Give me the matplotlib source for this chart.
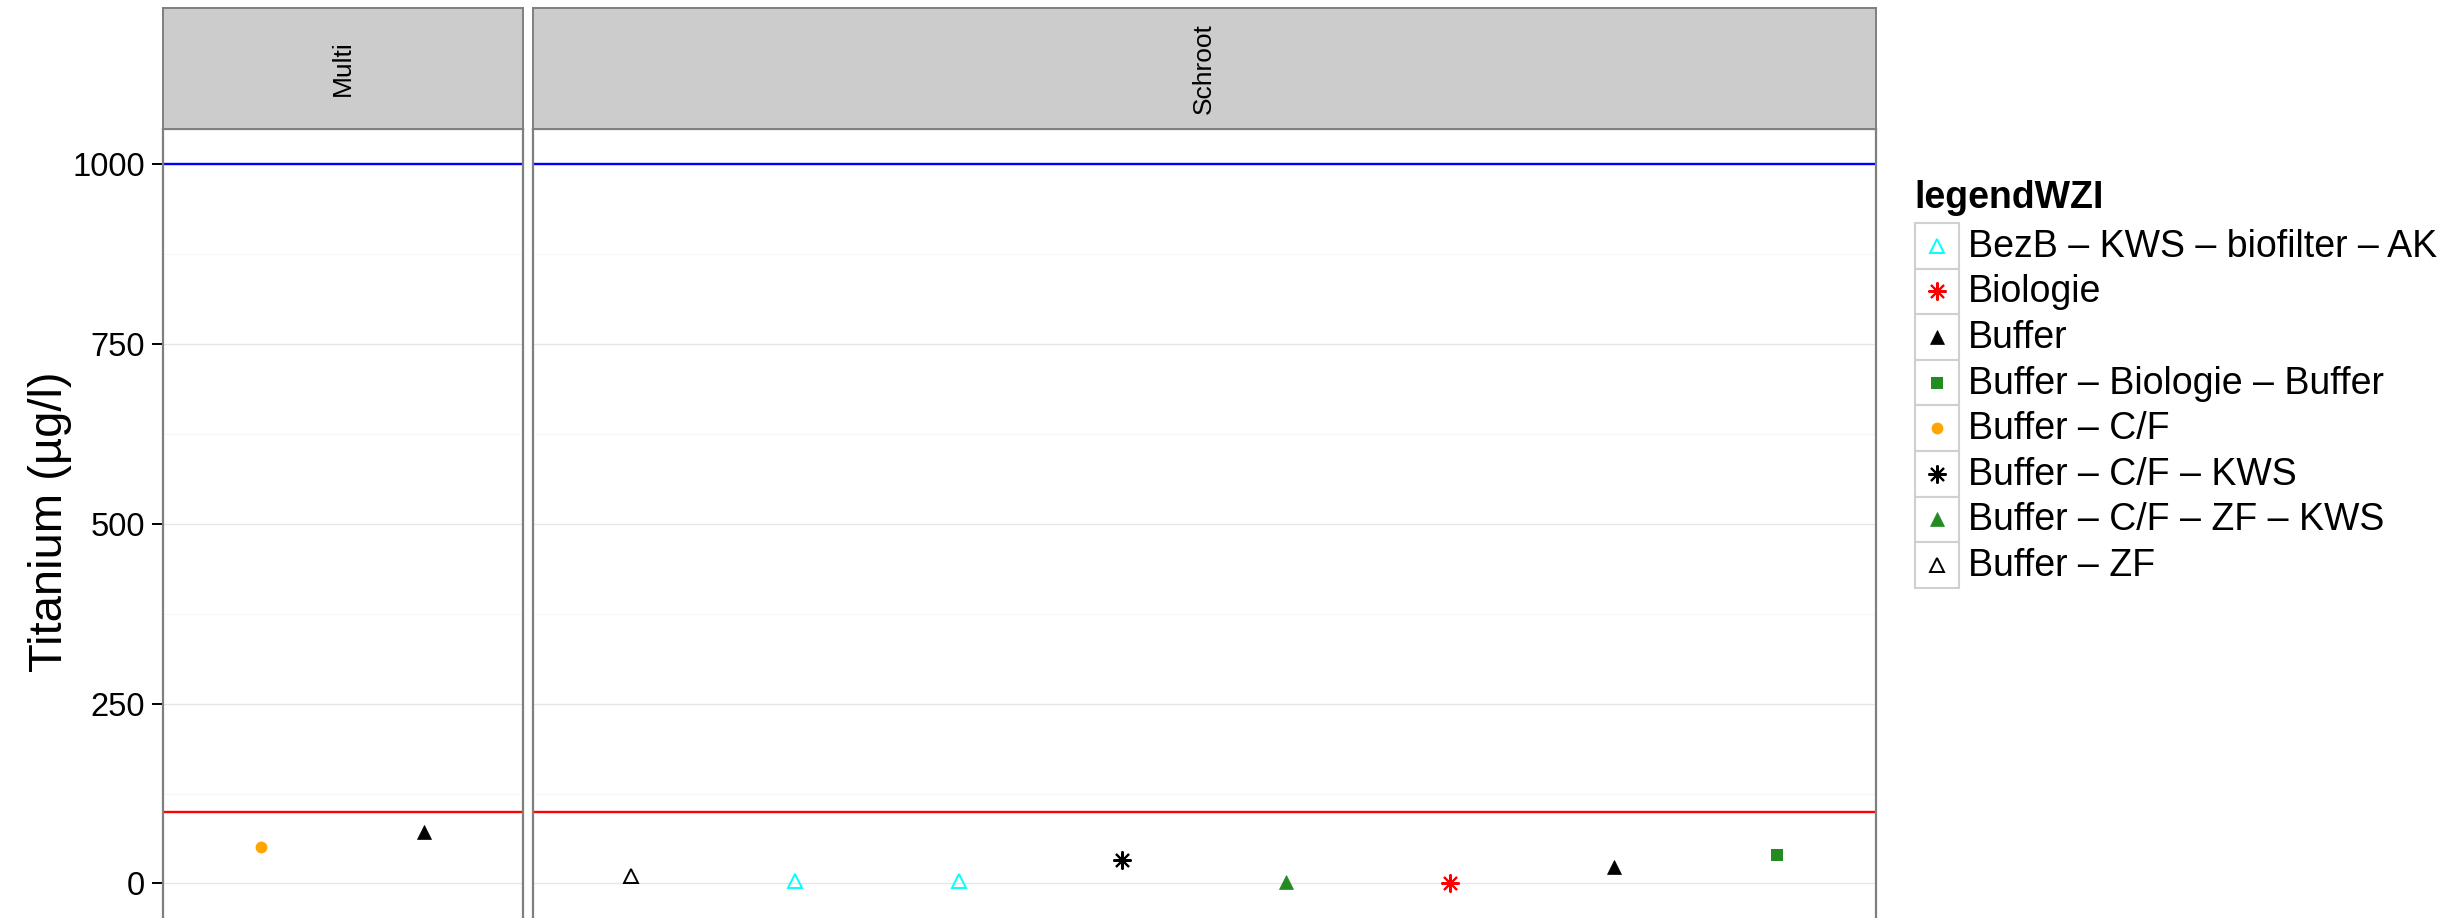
import matplotlib
matplotlib.use("Agg")
import matplotlib.pyplot as plt
from matplotlib.patches import Rectangle

plt.rcParams['font.family'] = ['Liberation Sans', 'DejaVu Sans']

# groups (legend order) and their marker styles
groups = ['BezB – KWS – biofilter – AK', 'Biologie', 'Buffer',
          'Buffer – Biologie – Buffer', 'Buffer – C/F', 'Buffer – C/F – KWS',
          'Buffer – C/F – ZF – KWS', 'Buffer – ZF']
group_colors = ['#00FFFF', '#FF0000', '#000000', '#228B22',
                '#FFA500', '#000000', '#228B22', '#000000']

# panel data (sample order along x)
multi_groups = ['Buffer – C/F', 'Buffer']
multi_values = [51, 71]
schroot_groups = ['Buffer – ZF', 'BezB – KWS – biofilter – AK',
                  'BezB – KWS – biofilter – AK', 'Buffer – C/F – KWS',
                  'Buffer – C/F – ZF – KWS', 'Biologie', 'Buffer',
                  'Buffer – Biologie – Buffer']
schroot_values = [10, 3.5, 3.5, 32, 2.5, 0.4, 23, 39]

limit_high = 1000
limit_low = 100
yticks = [0, 250, 500, 750, 1000]
yminor = [125, 375, 625, 875]


def marker_kw(group):
    c = group_colors[groups.index(group)]
    kw = dict(color=c, linestyle='none')
    if group in ('BezB – KWS – biofilter – AK', 'Buffer – ZF'):
        kw.update(marker='^', ms=10, mfc='none', mec=c, mew=1.4)
    elif group in ('Biologie', 'Buffer – C/F – KWS'):
        kw.update(marker=(8, 2, 0), ms=13, mec=c, mew=1.5)
    elif group in ('Buffer', 'Buffer – C/F – ZF – KWS'):
        kw.update(marker='^', ms=10, mfc=c, mec=c, mew=0.5)
    elif group == 'Buffer – Biologie – Buffer':
        kw.update(marker='s', ms=9, mfc=c, mec=c, mew=0)
    else:
        kw.update(marker='o', ms=8.5, mfc=c, mec=c, mew=0)
    return kw


W, H = 2445, 918
fig = plt.figure(figsize=(W / 100, H / 100), dpi=100)

panel_bottom = 0.0
panel_h = (H - 129) / H
strip_h = (129 - 8) / H
panels = [
    ('Multi', 163 / W, (522.5 - 163) / W, multi_groups, multi_values),
    ('Schroot', 533 / W, (1875.5 - 533) / W, schroot_groups, schroot_values),
]

for i, (name, left, width, grp, vals) in enumerate(panels):
    ax = fig.add_axes([left, panel_bottom, width, panel_h])
    ax.set_xlim(0.4, len(vals) + 0.6)
    ax.set_ylim(-48, 1049)
    for y in yminor:
        ax.axhline(y, color='#F5F5F5', lw=0.8, zorder=0)
    for y in yticks:
        ax.axhline(y, color='#E6E6E6', lw=1.0, zorder=0)
    ax.axhline(limit_high, color='#0000FF', lw=1.7, zorder=2)
    ax.axhline(limit_low, color='#FF0000', lw=1.7, zorder=2)
    for j, (g, v) in enumerate(zip(grp, vals)):
        ax.plot(j + 1, v, zorder=3, **marker_kw(g))
    for s in ax.spines.values():
        s.set_color('#7F7F7F')
        s.set_linewidth(1.6)
    ax.spines['bottom'].set_visible(False)
    ax.set_xticks([])
    ax.set_yticks(yticks)
    if i == 0:
        ax.tick_params(axis='y', labelsize=23.5, length=8, width=1.4,
                       color='black', labelcolor='black', pad=5)
    else:
        ax.tick_params(axis='y', left=False, labelleft=False)

    sax = fig.add_axes([left, panel_bottom + panel_h, width, strip_h])
    sax.set_facecolor('#CCCCCC')
    sax.set_xticks([])
    sax.set_yticks([])
    for s in sax.spines.values():
        s.set_color('#7F7F7F')
        s.set_linewidth(1.4)
    sax.text(0.5, 0.5, name, rotation=90, ha='center', va='center',
             fontsize=19, transform=sax.transAxes)

fig.text(50 / W, 1 - 522 / H, 'Titanium (µg/l)', rotation=90,
         ha='center', va='center', fontsize=34)

# legend drawn in pixel coordinates
lax = fig.add_axes([0, 0, 1, 1], facecolor='none')
lax.set_xlim(0, W)
lax.set_ylim(H, 0)
lax.axis('off')
lax.text(1914, 198, 'legendWZI', fontsize=27, fontweight='bold',
         ha='left', va='center')
key_top, key_h = 223, 45.6
for k, g in enumerate(groups):
    y0 = key_top + k * key_h
    lax.add_patch(Rectangle((1915, y0), 44, key_h, facecolor='white',
                            edgecolor='#D0D0D0', lw=1.5))
    lax.plot(1937, y0 + key_h / 2, **marker_kw(g))
    lax.text(1968, y0 + key_h / 2 + 1, g, fontsize=27, ha='left', va='center')

fig.savefig('out.png', dpi=100)
